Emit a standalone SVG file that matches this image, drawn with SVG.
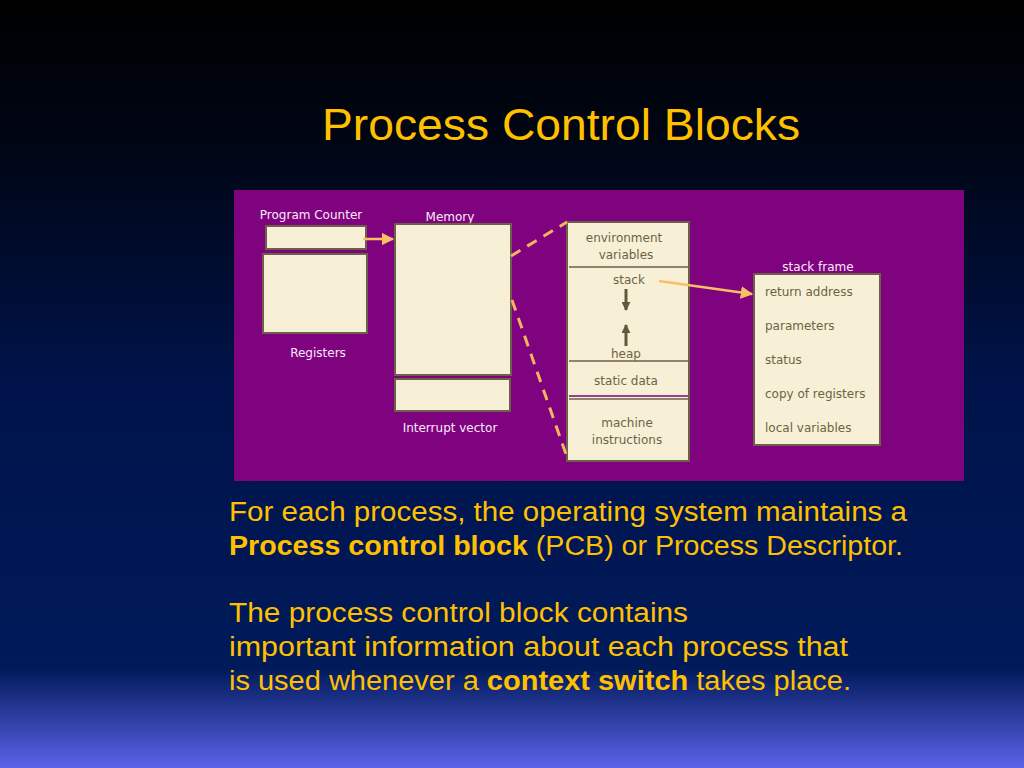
<svg xmlns="http://www.w3.org/2000/svg" width="1024" height="768" viewBox="0 0 1024 768">
<defs>
<linearGradient id="bg" x1="0" y1="0" x2="0" y2="1">
<stop offset="0" stop-color="#000000"/>
<stop offset="0.2" stop-color="#000616"/>
<stop offset="0.5" stop-color="#00134a"/>
<stop offset="0.87" stop-color="#001a5a"/>
<stop offset="1" stop-color="#5b62ea"/>
</linearGradient>
<marker id="oa" viewBox="0 0 10 10" refX="9" refY="5" markerWidth="5" markerHeight="5" orient="auto" markerUnits="strokeWidth">
<path d="M0,0 L10,5 L0,10 Z" fill="#f7c063"/>
</marker>
<marker id="da" viewBox="0 0 10 10" refX="9" refY="5" markerWidth="3" markerHeight="3" orient="auto" markerUnits="strokeWidth">
<path d="M0,0 L10,5 L0,10 Z" fill="#5e5a3c"/>
</marker>
<style>
.box{fill:#f8f0d6;stroke:#6e6048;stroke-width:2}
.lbl{font-family:"DejaVu Sans",Verdana,sans-serif;font-size:12px;fill:#fbe9fb}
.in{font-family:"DejaVu Sans",Verdana,sans-serif;font-size:12px;fill:#6d6345}
.div{stroke:#6e6048;stroke-width:1.5}
.body{font-family:"Liberation Sans",Arial,sans-serif;font-size:27px;fill:#ffc000}
.dash{stroke:#f3b45e;stroke-width:3;stroke-dasharray:11,8;fill:none}
.oarrow{stroke:#f7c063;stroke-width:2.5;fill:none;marker-end:url(#oa)}
.darrow{stroke:#5e5a3c;stroke-width:3;fill:none;marker-end:url(#da)}
</style>
</defs>
<rect width="1024" height="768" fill="url(#bg)"/>
<text x="561" y="140" text-anchor="middle" font-family="'Liberation Sans',Arial,sans-serif" font-size="44" fill="#ffc000" textLength="478" lengthAdjust="spacingAndGlyphs">Process Control Blocks</text>
<rect x="234" y="190" width="730" height="291" fill="#7f037f"/>

<g id="program-counter">
<text class="lbl" x="311" y="219" text-anchor="middle">Program Counter</text>
<rect class="box" x="266" y="226" width="100" height="23"/>
</g>
<g id="registers">
<rect class="box" x="263" y="254" width="104" height="79"/>
<text class="lbl" x="318" y="357" text-anchor="middle">Registers</text>
</g>
<g id="memory">
<text class="lbl" x="450" y="221" text-anchor="middle">Memory</text>
<rect class="box" x="395" y="224" width="116" height="151"/>
</g>
<g id="interrupt-vector">
<rect class="box" x="395" y="379" width="115" height="32"/>
<text class="lbl" x="450" y="432" text-anchor="middle">Interrupt vector</text>
</g>
<g id="process-memory">
<rect class="box" x="567" y="222" width="122" height="239"/>
<line class="div" x1="569" y1="267" x2="688" y2="267"/>
<line class="div" x1="569" y1="361" x2="688" y2="361"/>
<line stroke="#7f037f" stroke-width="1.5" x1="569" y1="396" x2="688" y2="396"/>
<line class="div" x1="569" y1="399" x2="688" y2="399"/>
<text class="in" x="624" y="242" text-anchor="middle">environment</text>
<text class="in" x="626" y="259" text-anchor="middle">variables</text>
<text class="in" x="629" y="284" text-anchor="middle">stack</text>
<text class="in" x="626" y="358" text-anchor="middle">heap</text>
<text class="in" x="626" y="385" text-anchor="middle">static data</text>
<text class="in" x="627" y="427" text-anchor="middle">machine</text>
<text class="in" x="627" y="444" text-anchor="middle">instructions</text>
</g>
<g id="stack-frame">
<text class="lbl" x="818" y="271" text-anchor="middle">stack frame</text>
<rect class="box" x="754" y="274" width="126" height="171"/>
<text class="in" x="765" y="296">return address</text>
<text class="in" x="765" y="330">parameters</text>
<text class="in" x="765" y="364">status</text>
<text class="in" x="765" y="398">copy of registers</text>
<text class="in" x="765" y="432">local variables</text>
</g>

<g id="connectors">
<line class="oarrow" x1="363" y1="239" x2="393" y2="239"/>
<line class="dash" x1="511" y1="256" x2="567" y2="222"/>
<line class="dash" x1="512" y1="300" x2="568" y2="460"/>
<line class="oarrow" x1="659" y1="281" x2="752" y2="294"/>
<line class="darrow" x1="626" y1="289" x2="626" y2="310"/>
<line class="darrow" x1="626" y1="346" x2="626" y2="325"/>
</g>

<g id="body-text">
<text class="body" x="229" y="521" textLength="678" lengthAdjust="spacingAndGlyphs">For each process, the operating system maintains a</text>
<text class="body" x="229" y="555" textLength="674" lengthAdjust="spacingAndGlyphs"><tspan font-weight="bold">Process control block</tspan> (PCB) or Process Descriptor.</text>
<text class="body" x="229" y="622" textLength="459" lengthAdjust="spacingAndGlyphs">The process control block contains</text>
<text class="body" x="229" y="656" textLength="619" lengthAdjust="spacingAndGlyphs">important information about each process that</text>
<text class="body" x="229" y="690" textLength="622" lengthAdjust="spacingAndGlyphs">is used whenever a <tspan font-weight="bold">context switch</tspan> takes place.</text>
</g>
</svg>
